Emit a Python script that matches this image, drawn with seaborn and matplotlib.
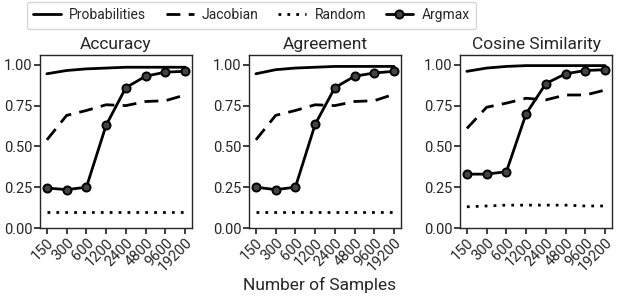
import matplotlib
matplotlib.use("Agg")
import matplotlib.pyplot as plt
import seaborn as sns
import pandas as pd
from matplotlib.lines import Line2D

samples = ["150", "300", "600", "1200", "2400", "4800", "9600", "19200"]
metrics = ["Accuracy", "Agreement", "Cosine Similarity"]

acc_prob = [0.945, 0.965, 0.975, 0.98, 0.985, 0.985, 0.985, 0.985]
acc_jac = [0.54, 0.69, 0.72, 0.755, 0.75, 0.775, 0.78, 0.815]
acc_rand = [0.10, 0.10, 0.10, 0.10, 0.10, 0.10, 0.10, 0.10]
acc_arg = [0.245, 0.235, 0.25, 0.63, 0.86, 0.93, 0.955, 0.96]

agr_prob = [0.945, 0.97, 0.98, 0.985, 0.99, 0.99, 0.99, 0.99]
agr_jac = [0.54, 0.69, 0.72, 0.755, 0.75, 0.775, 0.78, 0.82]
agr_rand = [0.10, 0.10, 0.10, 0.10, 0.10, 0.10, 0.10, 0.10]
agr_arg = [0.25, 0.235, 0.25, 0.635, 0.86, 0.93, 0.95, 0.96]

cos_prob = [0.96, 0.98, 0.99, 0.995, 0.995, 0.995, 0.995, 0.995]
cos_jac = [0.61, 0.74, 0.765, 0.795, 0.785, 0.815, 0.815, 0.845]
cos_rand = [0.13, 0.135, 0.14, 0.14, 0.14, 0.14, 0.135, 0.135]
cos_arg = [0.33, 0.33, 0.345, 0.70, 0.885, 0.945, 0.965, 0.97]

data = {
    "Accuracy": {"Probabilities": acc_prob, "Jacobian": acc_jac, "Random": acc_rand, "Argmax": acc_arg},
    "Agreement": {"Probabilities": agr_prob, "Jacobian": agr_jac, "Random": agr_rand, "Argmax": agr_arg},
    "Cosine Similarity": {"Probabilities": cos_prob, "Jacobian": cos_jac, "Random": cos_rand, "Argmax": cos_arg},
}

sns.set_theme(style="ticks")
plt.rcParams["font.family"] = ["Roboto", "DejaVu Sans"]

styles = {
    "Probabilities": dict(linestyle="-"),
    "Jacobian": dict(linestyle=(0, (5, 3))),
    "Random": dict(linestyle=(0, (1, 2.2))),
    "Argmax": dict(linestyle="-", marker="o", markersize=5.8, markerfacecolor="#444444",
                   markeredgecolor="black", markeredgewidth=1.4),
}

fig = plt.figure(figsize=(6.4, 3.03), dpi=100)
lefts = [40 / 640, 249 / 640, 460 / 640]
w = 152 / 640
bottom = 1 - 228 / 303
h = (228 - 55) / 303
axes = [fig.add_axes([l, bottom, w, h]) for l in lefts]

for ax, m in zip(axes, metrics):
    for name, vals in data[m].items():
        df = pd.DataFrame({"x": range(len(samples)), "y": vals})
        sns.lineplot(data=df, x="x", y="y", ax=ax, color="black", linewidth=2, **styles[name])
    ax.set_ylim(0, 1.06)
    ax.set_xticks(range(len(samples)))
    ax.set_xticklabels(samples, rotation=45, ha="right", rotation_mode="anchor")
    ax.set_yticks([0, 0.25, 0.5, 0.75, 1.0])
    ax.set_yticklabels(["0.00", "0.25", "0.50", "0.75", "1.00"])
    ax.tick_params(labelsize=10.5, length=4, pad=1.5)
    ax.set_xlabel("")
    ax.set_ylabel("")
    ax.set_title(m, fontsize=12.5, pad=4)
    for s in ax.spines.values():
        s.set_linewidth(1.0)

fig.text(0.5, 0.06, "Number of Samples", ha="center", va="center", fontsize=12.5)

handles = [Line2D([], [], color="black", linewidth=2, **styles[n]) for n in ["Probabilities", "Jacobian", "Random", "Argmax"]]
fig.legend(handles, ["Probabilities", "Jacobian", "Random", "Argmax"], loc="upper center",
           bbox_to_anchor=(0.393, 1.0), ncol=4, fontsize=10, frameon=True,
           handlelength=2.0, handletextpad=0.6, columnspacing=1.4,
           borderaxespad=0.15, borderpad=0.45)

fig.savefig("out.png", dpi=100)
